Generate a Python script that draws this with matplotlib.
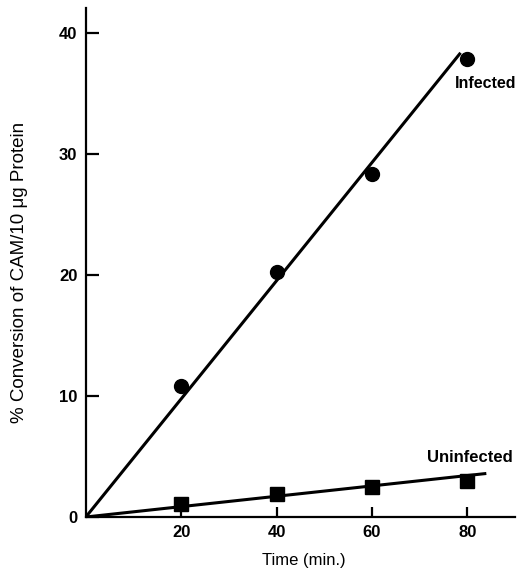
import matplotlib
matplotlib.use("Agg")
import numpy as np
import matplotlib.pyplot as plt

plt.rcParams["font.family"] = ["Liberation Sans", "DejaVu Sans"]

time = [20, 40, 60, 80]
infected = [10.8, 20.3, 28.4, 37.9]
uninfected = [1.1, 1.9, 2.5, 3.0]

# fitted lines through origin
infected_fit_x = [0, 78.6]
infected_fit_y = [0, 38.4]
uninfected_fit_x = [0, 84]
uninfected_fit_y = [0, 3.6]

fig = plt.figure(figsize=(5.17, 5.77), dpi=100)
ax = fig.add_axes([0.166, 0.104, 0.83, 0.882])

ax.plot(infected_fit_x, infected_fit_y, color="black", lw=2.2, solid_capstyle="butt")
ax.plot(uninfected_fit_x, uninfected_fit_y, color="black", lw=2.2, solid_capstyle="butt")
ax.plot(time, infected, "o", color="black", ms=10)
ax.plot(time, uninfected, "s", color="black", ms=9.5)

ax.text(77.3, 35.9, "Infected", fontsize=11.5, fontweight="bold", ha="left", va="center")
ax.text(71.5, 4.9, "Uninfected", fontsize=12, fontweight="bold", ha="left", va="center")

ax.set_xlim(0, 90)
ax.set_ylim(0, 42.1)
ax.set_xticks([20, 40, 60, 80])
ax.set_yticks([0, 10, 20, 30, 40])
for s in ["top", "right"]:
    ax.spines[s].set_visible(False)
for s in ["left", "bottom"]:
    ax.spines[s].set_linewidth(1.6)
ax.tick_params(axis="y", direction="in", length=9, width=1.6, labelsize=12, pad=6)
ax.tick_params(axis="x", direction="in", length=7, width=1.6, labelsize=12, pad=6)
for lab in ax.get_xticklabels() + ax.get_yticklabels():
    lab.set_fontweight("bold")

ax.set_xlabel("Time (min.)", fontsize=12)
ax.xaxis.set_label_coords(0.508, -0.07)
ax.set_ylabel("% Conversion of CAM/10 \u03bcg Protein", fontsize=13.5)
ax.yaxis.set_label_coords(-0.135, 0.48)

fig.savefig("out.png", dpi=100)
